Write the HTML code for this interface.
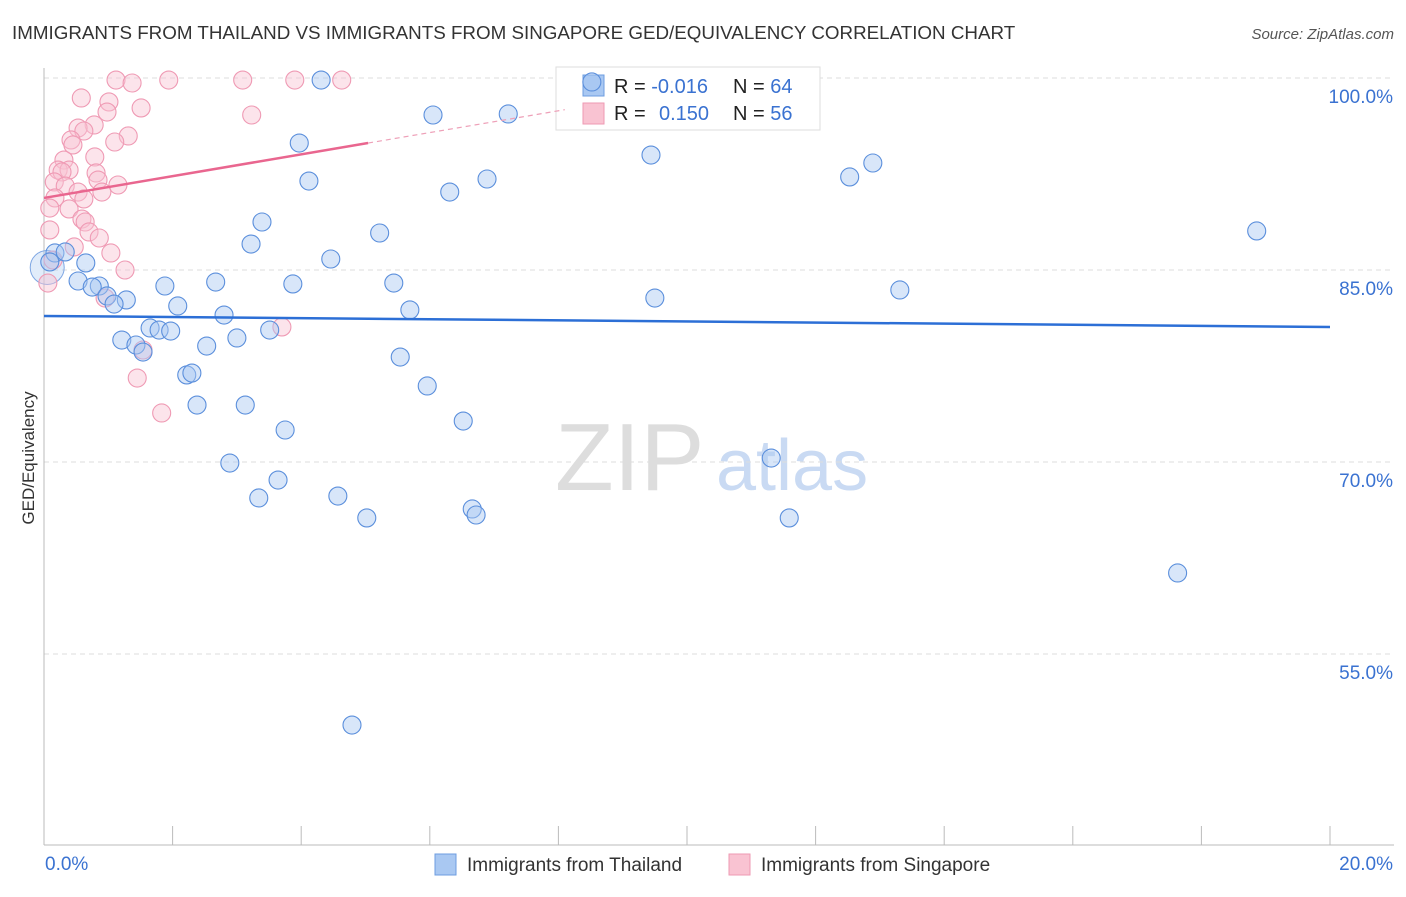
<!DOCTYPE html>
<html><head><meta charset="utf-8">
<style>
body{margin:0;background:#fff;font-family:"Liberation Sans",sans-serif;}
svg text{font-family:"Liberation Sans",sans-serif;}
</style></head>
<body>
<svg id="chart" width="1406" height="892" xmlns="http://www.w3.org/2000/svg">
<text x="12" y="39" font-size="18.8" fill="#333">IMMIGRANTS FROM THAILAND VS IMMIGRANTS FROM SINGAPORE GED/EQUIVALENCY CORRELATION CHART</text>
<text x="1394" y="39" font-size="15" fill="#555" font-style="italic" text-anchor="end">Source: ZipAtlas.com</text>
<text x="34" y="458" font-size="17" fill="#333" text-anchor="middle" transform="rotate(-90 34 458)">GED/Equivalency</text>
<text x="555" y="490" font-size="96" fill="#ddd" font-family="Liberation Serif">ZIP</text>
<text x="716" y="490" font-size="72" fill="#c9daf3">atlas</text>
<g id="grid"></g>
<g id="axes"></g>
<g>
<rect x="556" y="67" width="264" height="63" fill="#fff" stroke="#ddd"/>
<rect x="583" y="75" width="21" height="21" fill="#a9c8f2" stroke="#6d9de0"/>
<rect x="583" y="103" width="21" height="21" fill="#f9c3d2" stroke="#ee9ab3"/>
<text x="614" y="93" font-size="20" fill="#222">R = <tspan fill="#3a72d1">-0.016</tspan></text>
<text x="733" y="93" font-size="20" fill="#222">N = <tspan fill="#3a72d1">64</tspan></text>
<text x="614" y="120" font-size="20" fill="#222">R = <tspan fill="#3a72d1" x="659">0.150</tspan></text>
<text x="733" y="120" font-size="20" fill="#222">N = <tspan fill="#3a72d1">56</tspan></text>
</g>
<g id="pts"></g>
<g id="lines"></g>
<g>
<rect x="435" y="854" width="21" height="21" fill="#a9c8f2" stroke="#6d9de0"/>
<text x="467" y="871" font-size="19" fill="#333">Immigrants from Thailand</text>
<rect x="729" y="854" width="21" height="21" fill="#f9c3d2" stroke="#ee9ab3"/>
<text x="761" y="871" font-size="19" fill="#333">Immigrants from Singapore</text>
</g>
</svg>
<script>
const xTicksLbl=["0.0%","20.0%"];
const yTicks=[100,85,70,55];
const yTickLabels=["100.0%","85.0%","70.0%","55.0%"];
const blueX=[4.31,8.52,6.05,7.22,3.97,9.44,4.12,6.31,6.89,12.53,12.89,3.39,5.22,3.22,18.86,0.17,0.33,0.65,0.09,4.46,0.53,0.86,0.75,1.88,2.67,3.87,5.44,13.31,9.50,0.98,1.28,1.09,2.08,2.80,5.69,1.65,1.79,1.97,3.51,1.21,3.00,1.43,1.54,2.53,5.54,2.22,2.30,5.96,2.38,3.13,6.52,3.75,2.89,11.31,3.64,3.34,4.57,6.66,6.72,5.02,11.59,17.63,4.79];
const blueY=[99.84,99.69,97.11,97.19,94.92,93.98,91.95,91.09,92.11,92.27,93.36,88.75,87.89,87.03,88.05,86.33,86.41,85.55,85.63,85.86,84.14,83.75,83.67,83.75,84.06,83.91,83.98,83.44,82.81,82.97,82.66,82.34,82.19,81.48,81.88,80.47,80.31,80.23,80.31,79.53,79.69,79.14,78.59,79.06,78.20,76.80,76.95,75.94,74.45,74.45,73.20,72.50,69.92,70.31,68.59,67.19,67.34,66.33,65.86,65.63,65.63,61.33,49.45];
const pinkX=[1.12,1.37,1.94,3.09,3.90,4.63,0.58,1.01,0.98,1.51,3.23,0.78,0.53,0.62,1.31,0.42,1.10,0.45,0.79,0.31,0.22,0.39,0.28,0.81,0.16,0.33,1.15,0.84,0.53,0.90,0.17,0.62,0.09,0.39,0.59,0.64,0.70,0.09,0.86,0.47,1.04,0.14,1.26,0.06,0.95,3.70,1.54,1.45,1.83];
const pinkY=[99.84,99.61,99.84,99.84,99.84,99.84,98.44,98.13,97.34,97.66,97.11,96.33,96.09,95.86,95.47,95.16,95.0,94.77,93.83,93.59,92.81,92.81,92.66,92.58,91.88,91.56,91.64,92.03,91.09,91.09,90.63,90.55,89.84,89.77,88.98,88.75,87.97,88.13,87.50,86.80,86.33,85.78,85.0,83.98,82.81,80.55,78.75,76.56,73.83];
const blueTrend=[81.41,80.55];
const pinkTrend=[90.63,0.851];
const NS="http://www.w3.org/2000/svg";
const X=v=>44+v/20*1286, Y=v=>78+(100-v)/15*192;
function mk(t,a,p){const e=document.createElementNS(NS,t);for(const k in a)e.setAttribute(k,a[k]);p.appendChild(e);return e;}
const grid=document.getElementById('grid'),axes=document.getElementById('axes'),pts=document.getElementById('pts'),lines=document.getElementById('lines');
yTicks.forEach((t,i)=>{
 const l=mk('line',{x1:44,x2:1394,y1:Y(t),y2:Y(t),stroke:'#ddd','stroke-dasharray':'5,4'},grid);
 
 
 const tx=mk('text',{x:1393,y:Y(t)+25,'font-size':19,fill:'#3a72d1','text-anchor':'end'},axes);
 tx.textContent=yTickLabels[i];
 
 
});
const ax=mk('line',{x1:44,x2:44,y1:68,y2:845,stroke:'#bbb'},axes);


const bx=mk('line',{x1:44,x2:1394,y1:845,y2:845,stroke:'#bbb'},axes);


for(let i=0;i<=10;i++){const t=mk('line',{x1:X(i*2),x2:X(i*2),y1:826,y2:845,stroke:'#bbb'},axes);
 
 }
[[0,'start',45],[20,'end',1393]].forEach((d,i)=>{const t=mk('text',{x:d[2],y:870,'font-size':19,fill:'#3a72d1','text-anchor':d[1]},axes);t.textContent=xTicksLbl[i];
 
 });
const big=mk('circle',{cx:X(0.05),cy:Y(85.2),r:17,fill:'#a9c8f2','fill-opacity':0.35,stroke:'#7ea6e3'},pts);


pinkX.forEach((v,i)=>{const c=mk('circle',{cx:X(v),cy:Y(pinkY[i]),r:9,fill:'#f9c3d2','fill-opacity':0.45,stroke:'#ef9ab4','stroke-width':1.1},pts);
 
 });
blueX.forEach((v,i)=>{const c=mk('circle',{cx:X(v),cy:Y(blueY[i]),r:9,fill:'#a9c8f2','fill-opacity':0.45,stroke:'#5b8fdc','stroke-width':1.1},pts);
 
 });
const bl=mk('line',{x1:X(0),x2:X(20),y1:Y(blueTrend[0]),y2:Y(blueTrend[1]),stroke:'#2c6fd6','stroke-width':2.5},lines);


const py=x=>pinkTrend[0]+pinkTrend[1]*x;
const pl=mk('line',{x1:X(0),x2:X(5.04),y1:Y(py(0)),y2:Y(py(5.04)),stroke:'#e9668f','stroke-width':2.5},lines);


const pd=mk('line',{x1:X(5.04),x2:X(8.1),y1:Y(py(5.04)),y2:Y(py(8.1)),stroke:'#eea0b8','stroke-width':1.2,'stroke-dasharray':'5,4'},lines);


</script>
</body></html>
